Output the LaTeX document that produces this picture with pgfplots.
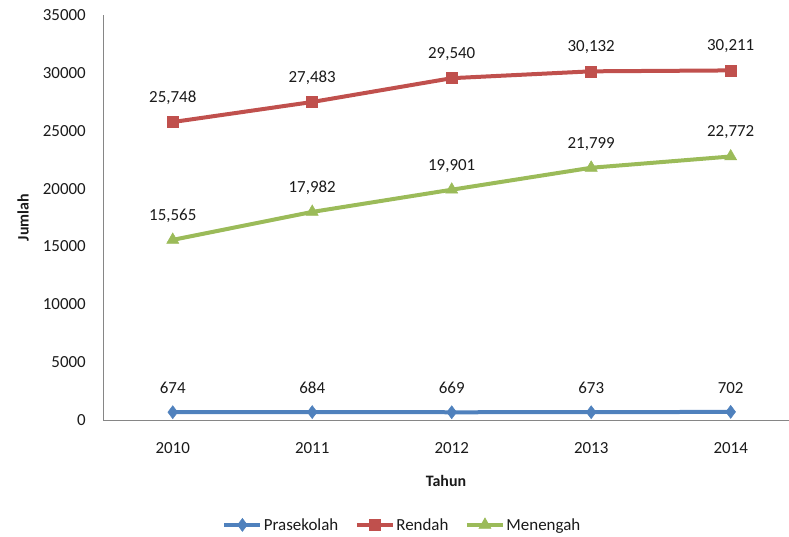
\documentclass[border=0pt]{standalone}
\usepackage{fontspec}
\setmainfont{Carlito}
\usepackage{pgfplots}
\pgfplotsset{compat=1.18}
\definecolor{cblue}{HTML}{4F81BD}
\definecolor{cred}{HTML}{C0504D}
\definecolor{cgreen}{HTML}{9BBB59}
\definecolor{axgray}{HTML}{868686}
\definecolor{txt}{HTML}{1A1A1A}
\begin{document}
\begin{tikzpicture}[x=1bp,y=1bp]
\begin{axis}[
  at={(103bp,117bp)}, anchor=south west,
  scale only axis, width=686bp, height=405bp,
  xmin=0.5, xmax=5.418, ymin=0, ymax=35000,
  axis x line*=bottom, axis y line*=left,
  axis line style={axgray, line width=1pt, -},
  xtick={1,2,3,4,5}, xticklabels={2010,2011,2012,2013,2014},
  ytick={0,5000,...,35000},
  major tick length=0pt,
  /pgf/number format/assume math mode=true,
  scaled y ticks=false,
  yticklabel style={/pgf/number format/1000 sep={}, anchor=east, inner sep=0pt, xshift=-17bp},
  xticklabel style={anchor=center, yshift=-28bp},
  tick label style={font=\fontsize{17}{20}\selectfont, text=txt},
  xlabel={\textbf{Tahun}}, ylabel={\textbf{Jumlah}},
  label style={font=\fontsize{16}{19}\selectfont, text=txt},
  xlabel style={at={(axis description cs:0.5,-0.151)}, anchor=center},
  ylabel style={at={(axis description cs:-0.1166,0.5)}, anchor=center, rotate=0},
  nodes near coords,
  point meta=explicit,
  every node near coord/.append style={font=\fontsize{17}{20}\selectfont, text=txt, anchor=center, yshift=24bp,
    /pgf/number format/1000 sep={,}, /pgf/number format/assume math mode=true},
  legend columns=3,
  legend style={at={(0.436,-0.259)}, anchor=center, draw=none, font=\fontsize{17}{20}\selectfont, text=txt,
    nodes={inner sep=1.5bp},
    /tikz/every even column/.append style={column sep=15bp}},
  legend image code/.code={\draw[mark repeat=2,mark phase=2,#1] plot coordinates {(0bp,0bp) (18bp,0bp) (36bp,0bp)};},
  every axis plot/.append style={line width=4bp},
]
\addplot[cblue, mark=diamond*, mark size=6.5bp, mark options={solid, line width=0.5pt, fill=cblue}] coordinates {
  (1,674) [674] (2,684) [684] (3,669) [669] (4,673) [673] (5,702) [702]};
\addlegendentry{Prasekolah}
\addplot[cred, mark=square*, mark size=5.5bp, mark options={solid, line width=0.5pt, fill=cred}] coordinates {
  (1,25748) [25748] (2,27483) [27483] (3,29540) [29540] (4,30132) [30132] (5,30211) [30211]};
\addlegendentry{Rendah}
\addplot[cgreen, mark=triangle*, mark size=7bp, mark options={solid, line width=0.5pt, fill=cgreen}] coordinates {
  (1,15565) [15565] (2,17982) [17982] (3,19901) [19901] (4,21799) [21799] (5,22772) [22772]};
\addlegendentry{Menengah}
\end{axis}
\pgfresetboundingbox
\path[use as bounding box] (0,0) rectangle (789bp,537bp);
\end{tikzpicture}
\end{document}
